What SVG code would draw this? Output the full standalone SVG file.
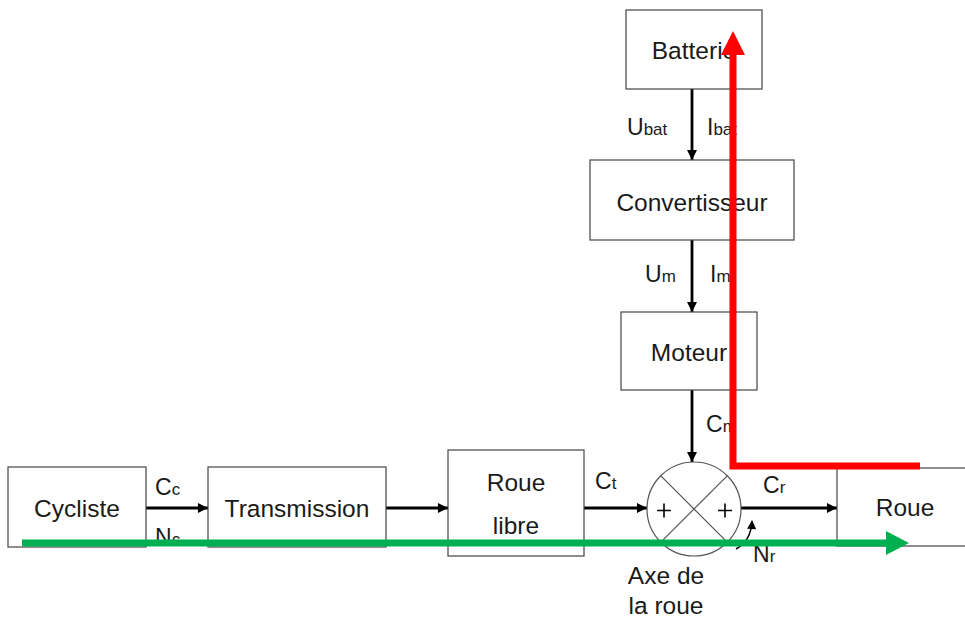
<svg xmlns="http://www.w3.org/2000/svg" width="965" height="618" viewBox="0 0 965 618">
<style>
.box{fill:#fff;stroke:#444;stroke-width:1.2}
.t{font-family:"Liberation Sans",Arial,sans-serif;font-size:24.5px;fill:#1a1a1a}
.l{font-family:"Liberation Sans",Arial,sans-serif;font-size:23px;fill:#1a1a1a}
.s{font-size:17px}
.c{text-anchor:middle}
.ar{stroke:#000;stroke-width:2.8;fill:none;marker-end:url(#ah)}
.thin{stroke:#555;stroke-width:1.2;fill:none}
</style>
<defs>
<marker id="ah" viewBox="0 0 10 10" refX="10" refY="5" markerWidth="4.2" markerHeight="3.6" markerUnits="strokeWidth" orient="auto"><path d="M0,0 L10,5 L0,10 z" fill="#000"/></marker>
<marker id="ah2" viewBox="0 0 10 10" refX="9" refY="5" markerWidth="7" markerHeight="6" markerUnits="strokeWidth" orient="auto"><path d="M0,0 L10,5 L0,10 z" fill="#000"/></marker>
</defs>
<rect width="965" height="618" fill="#fff"/>
<g id="connectors">
<line class="ar" x1="692" y1="89" x2="692" y2="160"/>
<line class="ar" x1="692" y1="240" x2="692" y2="312"/>
<line class="ar" x1="692" y1="390" x2="692" y2="462"/>
<line class="ar" x1="146" y1="508" x2="208" y2="508"/>
<line class="ar" x1="386" y1="508" x2="448" y2="508"/>
<line class="ar" x1="584" y1="508" x2="647" y2="508"/>
<line class="ar" x1="741" y1="508" x2="837" y2="508"/>
<path d="M736 549 Q751 541 752 521" stroke="#000" stroke-width="1.5" fill="none" marker-end="url(#ah2)"/>
</g>
<g id="batterie"><rect class="box" x="626" y="10" width="136" height="79"/><text class="t c" x="694" y="59">Batterie</text></g>
<g id="convertisseur"><rect class="box" x="590" y="160" width="204" height="80"/><text class="t c" x="692" y="211">Convertisseur</text></g>
<g id="moteur"><rect class="box" x="621" y="312" width="136" height="78"/><text class="t c" x="689" y="361">Moteur</text></g>
<g id="cycliste"><rect class="box" x="8" y="467" width="138" height="80"/><text class="t c" x="77" y="517">Cycliste</text></g>
<g id="transmission"><rect class="box" x="208" y="467" width="178" height="80"/><text class="t c" x="297" y="517">Transmission</text></g>
<g id="roue-libre"><rect class="box" x="448" y="450" width="136" height="106"/><text class="t c" x="516" y="491">Roue</text><text class="t c" x="516" y="534">libre</text></g>
<g id="roue"><rect class="box" x="837" y="468" width="150" height="78"/><text class="t c" x="905" y="516">Roue</text></g>
<g id="axe">
<circle class="thin" cx="694" cy="509" r="47"/>
<line class="thin" x1="660.8" y1="475.8" x2="727.2" y2="542.2"/>
<line class="thin" x1="727.2" y1="475.8" x2="660.8" y2="542.2"/>
<path d="M657 510.5 H671 M664 503.5 V517.5 M718 510.5 H732 M725 503.5 V517.5" stroke="#000" stroke-width="1.6"/>
<text class="t c" x="666" y="584">Axe de</text>
<text class="t c" x="666" y="614">la roue</text>
</g>
<g id="labels">
<text class="l" x="627" y="135">U<tspan class="s">bat</tspan></text>
<text class="l" x="707" y="135">I<tspan class="s">bat</tspan></text>
<text class="l" x="645" y="282">U<tspan class="s">m</tspan></text>
<text class="l" x="710" y="282">I<tspan class="s">m</tspan></text>
<text class="l" x="706" y="432">C<tspan class="s">m</tspan></text>
<text class="l" x="155" y="495">C<tspan class="s">c</tspan></text>
<text class="l" x="155" y="545">N<tspan class="s">c</tspan></text>
<text class="l" x="595" y="489">C<tspan class="s">t</tspan></text>
<text class="l" x="763" y="493">C<tspan class="s">r</tspan></text>
<text class="l" x="753" y="562">N<tspan class="s">r</tspan></text>
</g>
<g id="flows">
<path d="M920 466 H733 V52" stroke="#ff0000" stroke-width="7" fill="none"/>
<polygon points="733,31 721,55 745,55" fill="#ff0000"/>
<line x1="22" y1="543" x2="889" y2="543" stroke="#00b050" stroke-width="7"/>
<polygon points="909,543 886,531 886,555" fill="#00b050"/>
</g>
</svg>
